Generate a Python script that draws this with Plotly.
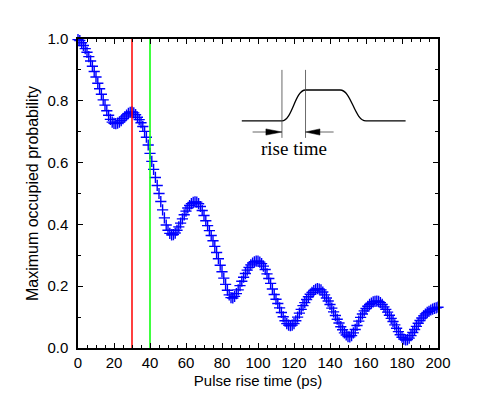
import plotly.graph_objects as go

# Pulse rise time (ps): the curve was sampled every 1 ps from 0 to 200
rise_time = list(range(201))

# Maximum occupied probability (one row per 10 ps)
max_prob = [
    0.998, 0.995, 0.988, 0.979, 0.969, 0.957, 0.943, 0.929, 0.912, 0.895,
    0.877, 0.857, 0.839, 0.821, 0.803, 0.786, 0.768, 0.753, 0.740, 0.731,
    0.727, 0.726, 0.728, 0.731, 0.736, 0.742, 0.748, 0.754, 0.759, 0.763,
    0.764, 0.761, 0.755, 0.747, 0.739, 0.729, 0.717, 0.701, 0.682, 0.657,
    0.630, 0.604, 0.578, 0.552, 0.526, 0.500, 0.474, 0.447, 0.421, 0.398,
    0.381, 0.371, 0.366, 0.367, 0.372, 0.381, 0.392, 0.404, 0.418, 0.431,
    0.443, 0.453, 0.461, 0.467, 0.471, 0.473, 0.472, 0.467, 0.458, 0.445,
    0.429, 0.412, 0.396, 0.380, 0.364, 0.347, 0.329, 0.309, 0.289, 0.268,
    0.247, 0.226, 0.206, 0.187, 0.172, 0.163, 0.162, 0.167, 0.176, 0.188,
    0.202, 0.216, 0.229, 0.241, 0.252, 0.261, 0.269, 0.275, 0.279, 0.281,
    0.281, 0.278, 0.273, 0.265, 0.254, 0.240, 0.225, 0.209, 0.191, 0.173,
    0.158, 0.144, 0.130, 0.115, 0.101, 0.088, 0.079, 0.074, 0.072, 0.074,
    0.079, 0.088, 0.100, 0.113, 0.125, 0.137, 0.147, 0.157, 0.166, 0.174,
    0.180, 0.186, 0.190, 0.192, 0.191, 0.188, 0.181, 0.172, 0.162, 0.152,
    0.141, 0.129, 0.117, 0.105, 0.093, 0.081, 0.069, 0.059, 0.049, 0.042,
    0.037, 0.036, 0.040, 0.049, 0.060, 0.073, 0.087, 0.099, 0.110, 0.120,
    0.128, 0.135, 0.141, 0.145, 0.149, 0.151, 0.152, 0.151, 0.147, 0.141,
    0.133, 0.125, 0.116, 0.106, 0.096, 0.086, 0.075, 0.064, 0.053, 0.043,
    0.035, 0.029, 0.026, 0.027, 0.032, 0.040, 0.050, 0.060, 0.070, 0.080,
    0.089, 0.097, 0.104, 0.110, 0.115, 0.119, 0.123, 0.126, 0.128, 0.130,
    0.132,
]

# vertical reference lines
ref_times = [30, 40]
ref_colors = ["#ff0000", "#00ff00"]

fig = go.Figure()

fig.add_trace(go.Scatter(
    x=rise_time, y=max_prob, mode="markers", cliponaxis=False,
    marker=dict(symbol="cross-thin", size=8, line=dict(width=1.4, color="#0000ff")),
    showlegend=False,
))

for t, c in zip(ref_times, ref_colors):
    fig.add_trace(go.Scatter(
        x=[t, t], y=[0, 1], mode="lines",
        line=dict(color=c, width=1.5), showlegend=False,
    ))

# inset sketch of the pulse (in data coordinates)
pulse = ("M 91,0.735 L 113.3,0.735 C 119,0.735 120.5,0.835 126.4,0.835 "
         "L 145.6,0.835 C 152,0.835 153.5,0.735 160,0.735 L 182,0.735")
fig.add_shape(type="path", path=pulse, xref="x", yref="y",
              line=dict(color="black", width=1.3))
for xv in [113.3, 126.4]:
    fig.add_shape(type="line", x0=xv, x1=xv, y0=0.68, y1=0.90, xref="x", yref="y",
                  line=dict(color="#444444", width=0.8))
fig.add_shape(type="line", x0=97, x1=105, y0=0.699, y1=0.699,
              line=dict(color="#666666", width=1))
fig.add_shape(type="line", x0=134.5, x1=142, y0=0.699, y1=0.699,
              line=dict(color="#666666", width=1))
fig.add_shape(type="path", path="M 104.4,0.709 L 113.3,0.699 L 104.4,0.689 Z",
              fillcolor="black", line=dict(color="black", width=0.5))
fig.add_shape(type="path", path="M 134.4,0.709 L 126.4,0.699 L 134.4,0.689 Z",
              fillcolor="black", line=dict(color="black", width=0.5))
fig.add_annotation(x=120, y=0.645, text="rise time", showarrow=False,
                   font=dict(family="Liberation Serif", size=19, color="black"))

axis_style = dict(
    showline=True, linecolor="black", linewidth=1.5, mirror="allticks",
    ticks="inside", ticklen=5, tickwidth=1, tickcolor="black",
    showgrid=False, zeroline=False,
    tickfont=dict(family="Liberation Sans", size=15, color="black"),
)

fig.update_xaxes(
    range=[0, 200], dtick=20, ticklabelstandoff=0,
    minor=dict(dtick=5, ticks="inside", ticklen=3, tickcolor="black"),
    title=dict(text="Pulse rise time (ps)", standoff=6,
               font=dict(family="Liberation Sans", size=15, color="black")),
    **axis_style,
)
fig.update_yaxes(
    range=[0, 1], dtick=0.2, tickformat=".1f", ticklabelstandoff=5,
    minor=dict(dtick=0.1, ticks="inside", ticklen=3, tickcolor="black"),
    title=dict(text="Maximum occupied probability", standoff=5,
               font=dict(family="Liberation Sans", size=16, color="black")),
    **axis_style,
)

fig.update_layout(
    width=485, height=415,
    margin=dict(l=70, r=55, t=31, b=75),
    paper_bgcolor="white", plot_bgcolor="white",
)

fig.write_html("out.html")
